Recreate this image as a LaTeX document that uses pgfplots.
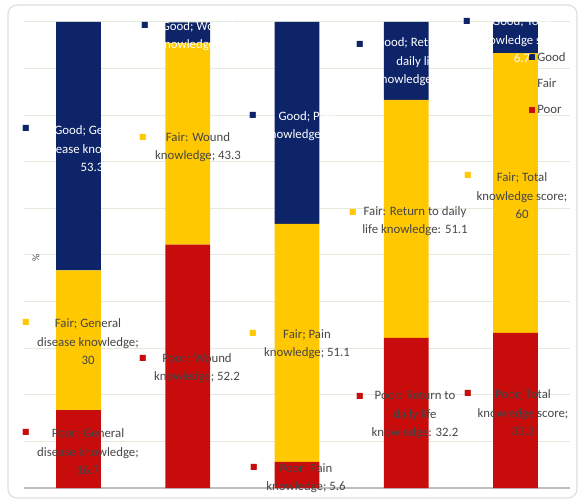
\documentclass[border=0pt]{standalone}
\usepackage{fontspec}
\setmainfont{Carlito}
\newfontfamily\sym{DejaVu Sans}
\usepackage{pgfplots}
\pgfplotsset{compat=1.18}
\definecolor{navyc}{RGB}{14,36,104}
\definecolor{yelc}{RGB}{255,200,0}
\definecolor{redc}{RGB}{200,12,12}
\definecolor{gridc}{RGB}{226,234,219}
\definecolor{labg}{RGB}{70,70,70}
\definecolor{baseg}{RGB}{190,190,190}
\begin{document}
\begin{tikzpicture}[x=1pt,y=1pt]
\path[use as bounding box] (0,0) rectangle (580,503);
\draw[gray!25, line width=1.2pt, rounded corners=9pt] (8,5) rectangle (577,498);
\begin{axis}[
  at={(24pt,15pt)}, anchor=south west, scale only axis,
  width=546pt, height=466pt,
  ybar stacked, bar width=0.41,
  xmin=-0.5, xmax=4.5, ymin=0, ymax=100,
  xtick=\empty, ytick={0,10,...,100}, yticklabels={},
  ymajorgrids, major grid style={color=gridc, line width=1pt},
  major tick length=0pt,
  axis x line*=bottom, axis y line*=left,
  y axis line style={draw=none},
  x axis line style={draw=baseg, line width=2.2pt},
  legend style={at={(0.925,0.94)}, anchor=north west, draw=none, fill=none,
    font=\fontsize{12.8}{14}\selectfont, text=labg, row sep=12pt, inner sep=0pt},
  legend cell align=left, reverse legend,
  legend image code/.code={\draw[#1,draw=none] (0pt,-3pt) rectangle (6pt,3pt);},
]
\addplot[fill=redc, draw=none] coordinates {(0,16.7) (1,52.2) (2,5.6) (3,32.2) (4,33.3)};
\addlegendentry{Poor}
\addplot[fill=yelc, draw=none] coordinates {(0,30) (1,43.3) (2,51.1) (3,51.1) (4,60)};
\addlegendentry{Fair}
\addplot[fill=navyc, draw=none] coordinates {(0,53.3) (1,4.4) (2,43.3) (3,16.7) (4,6.7)};
\addlegendentry{Good}
\end{axis}
\tikzset{lab/.style={font=\fontsize{12.8}{18.5}\selectfont, align=center, text=labg, inner sep=0pt},
  sq/.style={font=\sym\fontsize{8}{8}\selectfont, inner sep=0pt}}
% General
\node[sq, text=navyc] at (26,375) {■};
\node[lab, text=white] at (92,354) {Good; General\\disease knowledge;\\53.3};
\node[sq, text=yelc] at (26,181) {■};
\node[lab] at (88,161) {Fair; General\\disease knowledge;\\30};
\node[sq, text=redc] at (26,71) {■};
\node[lab] at (88,51) {Poor: General\\disease knowledge;\\16.7};
% Wound
\node[sq, text=navyc] at (145,478) {■};
\node[lab, text=white] at (198,467) {Good; Wound\\knowledge; 4.4};
\node[sq, text=yelc] at (143,366) {■};
\node[lab] at (198,356) {Fair: Wound\\knowledge; 43.3};
\node[sq, text=redc] at (143,145) {■};
\node[lab] at (197,135) {Poor: Wound\\knowledge; 52.2};
% Pain
\node[sq, text=navyc] at (253,388) {■};
\node[lab, text=white] at (307,377) {Good; Pain\\knowledge; 43.3};
\node[sq, text=yelc] at (253,170) {■};
\node[lab] at (307,159) {Fair; Pain\\knowledge; 51.1};
\node[sq, text=redc] at (254,36) {■};
\node[lab] at (306,25) {Poor; Pain\\knowledge; 5.6};
% Return
\node[sq, text=navyc] at (360,459) {■};
\node[lab, text=white] at (418,441) {Good; Return to\\daily life\\knowledge; 16.7};
\node[sq, text=yelc] at (353,291) {■};
\node[lab] at (415,282) {Fair: Return to daily\\life knowledge: 51.1};
\node[sq, text=redc] at (360,107) {■};
\node[lab] at (415,88) {Poor: Return to\\daily life\\knowledge: 32.2};
% Total
\node[sq, text=navyc] at (467,482) {■};
\node[lab, text=white] at (522,463) {Good; Total\\knowledge score;\\6.7};
\node[sq, text=yelc] at (468,328) {■};
\node[lab] at (522,307) {Fair; Total\\knowledge score;\\60};
\node[sq, text=redc] at (468,110) {■};
\node[lab] at (523,90) {Poor; Total\\knowledge score;\\33.3};
\node[text=labg, font=\fontsize{10}{10}\selectfont, rotate=90] at (36,245) {\%};
\end{tikzpicture}
\end{document}
